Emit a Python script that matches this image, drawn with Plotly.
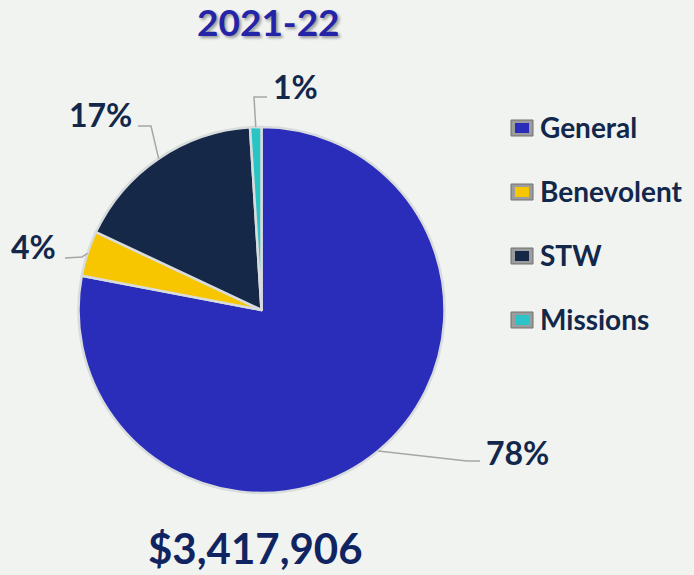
import math
import plotly.graph_objects as go

labels = ["General", "Benevolent", "STW", "Missions"]
values = [78, 4, 17, 1]
pct_text = ["78%", "4%", "17%", "1%"]
colors = ["#2A2CBA", "#F7C600", "#152848", "#2BC4C6"]
title_text = "2021-22"
total_text = "$3,417,906"

W, H = 694, 575
FONT = "Lato"
TXT = "#13274B"

# pie geometry (pixels)
CX, CY, R = 261.5, 310, 183


def px(x):
    return x / W


def py(y):
    return 1 - y / H


fig = go.Figure(go.Pie(
    labels=labels, values=values, sort=False, direction="clockwise", rotation=0,
    marker=dict(colors=colors, line=dict(color="#D8DCDC", width=2.5)),
    textinfo="none", showlegend=False, hoverinfo="label+percent",
    domain=dict(x=[px(CX - R), px(CX + R)], y=[py(CY + R), py(CY - R)]),
))

# anchor points for leader lines, computed from the data
total = sum(values)
anchors = []
cum = 0
for v in values:
    mid = (cum + v / 2) / total * 2 * math.pi
    anchors.append((CX + R * math.sin(mid), CY - R * math.cos(mid)))
    cum += v

# label layout: (elbow, end, text anchor x, text y, xanchor)
label_layout = [
    ((467, 461), (480, 461), 484, 452, "left"),
    ((82, 257), (65, 258), 58, 246, "right"),
    ((151, 126), (138, 126), 134, 114, "right"),
    ((254, 97), (267, 97), 271, 86, "left"),
]

shapes = []
annotations = []
for (ax, ay), (el, en, tx, ty, xa), t in zip(anchors, label_layout, pct_text):
    path = f"M {px(ax)} {py(ay)} L {px(el[0])} {py(el[1])} L {px(en[0])} {py(en[1])}"
    shapes.append(dict(type="path", xref="paper", yref="paper", path=path,
                       line=dict(color="#A6A6A6", width=1.5)))
    annotations.append(dict(x=px(tx), y=py(ty), xref="paper", yref="paper", text=f"<b>{t}</b>",
                            showarrow=False, xanchor=xa, yanchor="middle",
                            font=dict(family=FONT, size=32, color=TXT)))

# custom legend
for i, (lab, col) in enumerate(zip(labels, colors)):
    yc = 128 + 64 * i
    x0, x1 = 511, 533
    shapes.append(dict(type="rect", xref="paper", yref="paper",
                       x0=px(x0), x1=px(x1), y0=py(yc + 8), y1=py(yc - 8),
                       fillcolor="#9C9C9C", line=dict(color="#707070", width=1)))
    shapes.append(dict(type="rect", xref="paper", yref="paper",
                       x0=px(x0 + 4), x1=px(x1 - 4), y0=py(yc + 5), y1=py(yc - 5),
                       fillcolor=col, line=dict(width=0)))
    annotations.append(dict(x=px(538), y=py(yc - 1), xref="paper", yref="paper", text=f"<b>{lab}</b>",
                            showarrow=False, xanchor="left", yanchor="middle",
                            font=dict(family=FONT, size=28, color=TXT)))

annotations.append(dict(x=px(268), y=py(22), xref="paper", yref="paper", text=f"<b>{title_text}</b>",
                        showarrow=False, xanchor="center", yanchor="middle",
                        font=dict(family=FONT, size=37, color="#2424A8", shadow="2px 2px 3px #9A9A9A")))
annotations.append(dict(x=px(255), y=py(548), xref="paper", yref="paper", text=f"<b>{total_text}</b>",
                        showarrow=False, xanchor="center", yanchor="middle",
                        font=dict(family=FONT, size=42, color="#0F2460")))

fig.update_layout(
    width=W, height=H, margin=dict(l=0, r=0, t=0, b=0),
    paper_bgcolor="#F0F3F0", plot_bgcolor="#F0F3F0",
    shapes=shapes, annotations=annotations, showlegend=False,
)

fig.write_html("out.html", config={"displayModeBar": False},
               post_script="document.body.style.margin='0px';document.body.style.padding='0px';")
